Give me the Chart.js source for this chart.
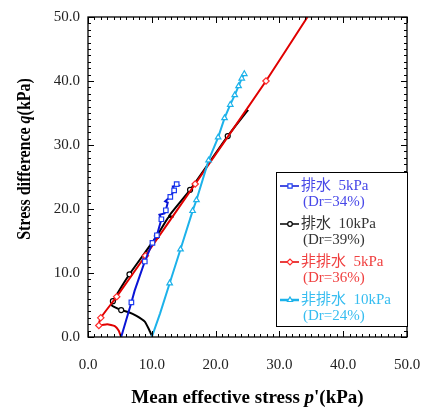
<!DOCTYPE html>
<html>
<head>
<meta charset="utf-8">
<script src="https://cdn.jsdelivr.net/npm/chart.js@4.4.0/dist/chart.umd.min.js"></script>
<style>
  html, body { margin: 0; padding: 0; background: #fff; }
</style>
</head>
<body>
<canvas id="chart" width="424" height="408"></canvas>
<script>
// stress paths, [p', q] in kPa
const drained5Path = [[5.2,0],[6.0,2.7],[6.8,5.4],[7.3,7.2],[8.1,9.5],[8.9,11.8],[10.1,14.7],[10.8,15.9],[11.5,18.4],
  [11.2,19.1],[12.0,19.3],[12.2,19.8],[12.5,21.0],[12.1,21.2],[12.9,21.9],[13.5,22.9],[13.3,23.5],[14.2,23.7],[13.9,23.9]];
const drained5Marks = [[6.8,5.4],[8.9,11.8],[10.1,14.7],[10.8,15.9],[11.5,18.4],[12.2,19.8],[12.9,21.9],[13.5,22.9],[13.9,23.9]];

const drained10Path = [[10.1,0],[9.6,1.1],[8.9,2.4],[7.6,3.3],[6.3,3.9],[5.2,4.2],[4.1,4.7],[3.7,5.0],[3.9,5.6],
  [6.5,9.8],[10.8,15.8],[12.6,18.7],[13.3,18.8],[12.7,18.9],[16.0,23.0],[21.9,31.4],[25.1,35.5]];
const drained10Marks = [[5.2,4.2],[3.9,5.6],[6.5,9.8],[10.8,15.8],[16.0,23.0],[21.9,31.4]];

const undrained5Path = [[5.2,0],[4.8,1.0],[4.2,1.7],[3.0,2.0],[1.7,1.8],[2.0,3.0],[4.5,6.3],[9.0,12.7],[16.8,23.9],[27.9,40.0],[34.4,50.0]];
const undrained5Marks = [[1.7,1.8],[2.0,3.0],[4.5,6.3],[9.0,12.7],[16.8,23.9],[27.9,40.0]];

const undrained10Path = [[10.0,0],[11.3,3.7],[12.8,8.4],[14.5,13.7],[16.4,19.7],[17.0,21.4],[18.9,27.6],[20.4,31.2],
  [21.4,34.2],[22.3,36.3],[23.0,37.8],[23.6,39.2],[24.1,40.4],[24.5,41.1]];
const undrained10Marks = [[12.8,8.4],[14.5,13.7],[16.4,19.7],[17.0,21.4],[18.9,27.6],[20.4,31.2],[21.4,34.2],
  [22.3,36.3],[23.0,37.8],[23.6,39.2],[24.1,40.4],[24.5,41.1]];

const legendLabels = ['排水  5kPa', '排水  10kPa', '非排水  5kPa', '非排水  10kPa'];
const legendDr = ['(Dr=34%)', '(Dr=39%)', '(Dr=36%)', '(Dr=24%)'];

const axisMin = 0, axisMax = 50, majorStep = 10;

const toXY = a => a.map(([x, y]) => ({ x, y }));

const seriesStyle = [
  { line: '#0a14d6', mark: '#1d3cf0', text: '#4848e8', shape: 'rect', width: 2, tension: 0 },
  { line: '#000000', mark: '#000000', text: '#333333', shape: 'circle', width: 2, tension: 0.15 },
  { line: '#e00000', mark: '#ff2b2b', text: '#f04040', shape: 'rectRot', width: 2, tension: 0.15 },
  { line: '#1cb2ea', mark: '#1cb2ea', text: '#36bdf0', shape: 'triangle', width: 2, tension: 0 }
];
const paths = [drained5Path, drained10Path, undrained5Path, undrained10Path];
const marks = [drained5Marks, drained10Marks, undrained5Marks, undrained10Marks];
const drawOrder = [2, 4, 3, 1]; // lower = on top

const datasets = [];
paths.forEach((p, i) => {
  const st = seriesStyle[i];
  datasets.push({
    data: toXY(p), showLine: true, borderColor: st.line, borderWidth: st.width,
    pointRadius: 0, tension: st.tension, order: drawOrder[i] + 0.5
  });
  datasets.push({
    data: toXY(marks[i]), showLine: false, pointStyle: st.shape,
    pointRadius: st.shape === 'circle' ? 2.5 : 3.2, pointBorderWidth: 1.2,
    pointBorderColor: st.mark, pointBackgroundColor: '#fff', order: drawOrder[i]
  });
});

const serif = '"Liberation Serif", "Times New Roman", serif';

const framePlugin = {
  id: 'frame',
  afterDraw(chart) {
    const ctx = chart.ctx, a = chart.chartArea;
    const xs = chart.scales.x, ys = chart.scales.y;
    ctx.save();
    ctx.strokeStyle = '#000';
    ctx.lineWidth = 1;
    ctx.beginPath();
    for (let v = axisMin; v <= axisMax; v++) {
      const len = v % majorStep === 0 ? 6 : 3;
      const px = Math.round(xs.getPixelForValue(v)) + 0.5;
      ctx.moveTo(px, a.bottom); ctx.lineTo(px, a.bottom - len);
      ctx.moveTo(px, a.top); ctx.lineTo(px, a.top + len);
      const py = Math.round(ys.getPixelForValue(v)) + 0.5;
      ctx.moveTo(a.left, py); ctx.lineTo(a.left + len, py);
      ctx.moveTo(a.right, py); ctx.lineTo(a.right - len, py);
    }
    ctx.stroke();
    ctx.lineWidth = 1.3;
    ctx.strokeRect(a.left, a.top, a.right - a.left, a.bottom - a.top);

    // legend box
    const lx = 276, ly = 172, lw = 131, lh = 154;
    ctx.fillStyle = '#fff';
    ctx.fillRect(lx, ly, lw, lh);
    ctx.lineWidth = 1;
    ctx.strokeStyle = '#000';
    ctx.strokeRect(lx + 0.5, ly + 0.5, lw, lh);
    const rowY = [186, 224, 262, 300];
    legendLabels.forEach((lab, i) => {
      const st = seriesStyle[i];
      const y = rowY[i];
      ctx.strokeStyle = st.line;
      ctx.lineWidth = i === 3 ? 2.5 : 1.5;
      ctx.beginPath(); ctx.moveTo(280, y); ctx.lineTo(299, y); ctx.stroke();
      ctx.strokeStyle = st.mark;
      ctx.fillStyle = '#fff';
      ctx.lineWidth = 1.2;
      Chart.helpers.drawPoint(ctx, { pointStyle: st.shape, radius: st.shape === 'circle' ? 2.3 : 3, rotation: 0, borderWidth: 1.2 }, 290, y);
      ctx.fillStyle = st.text;
      ctx.font = '15px ' + serif + ', "Noto Sans CJK JP"';
      ctx.textBaseline = 'middle';
      ctx.textAlign = 'left';
      ctx.fillText(lab, 301, y);
      ctx.fillText(legendDr[i], 303, y + 16);
    });

    // axis titles with italic variable names
    const drawRich = (parts, cx, cy) => {
      let total = 0;
      parts.forEach(p => {
        ctx.font = (p[1] ? 'italic ' : '') + 'bold 19px ' + serif;
        total += ctx.measureText(p[0]).width;
      });
      let x = cx - total / 2;
      parts.forEach(p => {
        ctx.font = (p[1] ? 'italic ' : '') + 'bold 19px ' + serif;
        ctx.fillText(p[0], x, cy);
        x += ctx.measureText(p[0]).width;
      });
    };
    ctx.fillStyle = '#000';
    ctx.textAlign = 'left';
    ctx.textBaseline = 'alphabetic';
    drawRich([['Mean effective stress ', false], ['p', true], ["'(kPa)", false]], (a.left + a.right) / 2, 403);
    ctx.translate(30, 159);
    ctx.rotate(-Math.PI / 2);
    ctx.scale(0.84, 1);
    drawRich([['Stress difference ', false], ['q', true], ['(kPa)', false]], 0, 0);
    ctx.restore();
  }
};

new Chart(document.getElementById('chart'), {
  type: 'scatter',
  data: { datasets },
  options: {
    responsive: false,
    animation: false,
    devicePixelRatio: 1,
    layout: { padding: { top: 17, right: 17, left: 0, bottom: 0 } },
    plugins: { legend: { display: false }, tooltip: { enabled: false } },
    scales: {
      x: {
        type: 'linear', min: axisMin, max: axisMax,
        grid: { display: false, drawTicks: false },
        border: { display: false },
        ticks: { stepSize: majorStep, padding: 19, color: '#222', font: { family: serif, size: 15 },
          callback: v => v.toFixed(1) },
        afterFit: s => { s.height = 71; s.paddingLeft = 0; s.paddingRight = 0; }
      },
      y: {
        type: 'linear', min: axisMin, max: axisMax,
        grid: { display: false, drawTicks: false },
        border: { display: false },
        ticks: { stepSize: majorStep, padding: 8, color: '#222', font: { family: serif, size: 15 },
          callback: v => v.toFixed(1) },
        afterFit: s => { s.width = 88; s.paddingTop = 0; s.paddingBottom = 0; }
      }
    }
  },
  plugins: [framePlugin]
});
</script>
</body>
</html>
